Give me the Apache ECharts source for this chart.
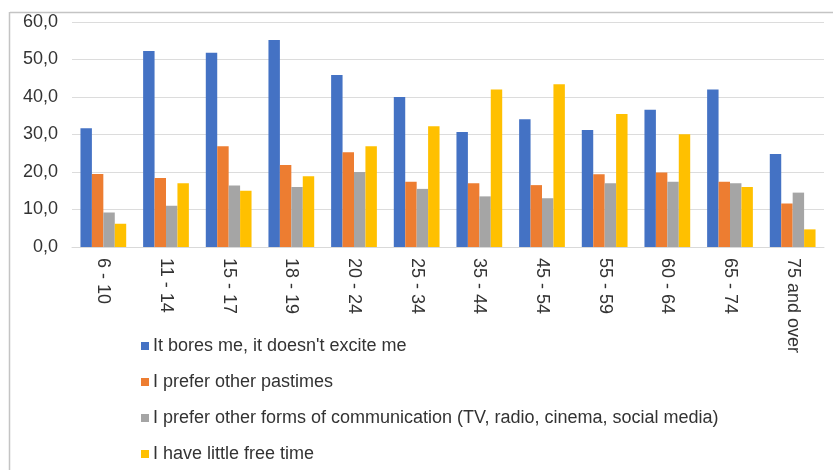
<!DOCTYPE html>
<html>
<head>
<meta charset="utf-8">
<script src="https://cdn.jsdelivr.net/npm/echarts@6/dist/echarts.min.js"></script>
<style>
html,body{margin:0;padding:0;background:#fff;}
#chart{width:833px;height:470px;}
</style>
</head>
<body>
<div id="chart"></div>
<script>
var categories = ["6 - 10","11 - 14","15 - 17","18 - 19","20 - 24","25 - 34","35 - 44","45 - 54","55 - 59","60 - 64","65 - 74","75 and over"];
var seriesNames = ["It bores me, it doesn't excite me","I prefer other pastimes","I prefer other forms of communication (TV, radio, cinema, social media)","I have little free time"];
var boresMe = [31.7,52.3,51.8,55.2,45.9,40.0,30.7,34.1,31.2,36.6,42.0,24.8];
var otherPastimes = [19.5,18.4,26.9,21.9,25.3,17.4,17.0,16.5,19.4,19.9,17.4,11.6];
var otherComm = [9.2,11.0,16.4,16.0,20.0,15.5,13.5,13.0,17.0,17.4,17.0,14.5];
var littleTime = [6.2,17.0,15.0,18.9,26.9,32.2,42.0,43.4,35.5,30.1,16.0,4.7];
var yTicks = {min:0, max:60, interval:10};
var colors = ["#4472C4","#ED7D31","#A5A5A5","#FFC000"];

var chart = echarts.init(document.getElementById('chart'));
var dataSets = [boresMe, otherPastimes, otherComm, littleTime];
var txt = '#333333';
var ff = 'Liberation Sans, Arial, sans-serif';
chart.setOption({
  animation:false,
  color: colors,
  graphic:[
    {type:'line', shape:{x1:10,y1:12.5,x2:833,y2:12.5}, style:{stroke:'#c4c4c4',lineWidth:1.5}},
    {type:'line', shape:{x1:9.5,y1:12,x2:9.5,y2:470}, style:{stroke:'#c4c4c4',lineWidth:1.5}}
  ],
  grid:{left:72, right:9, top:22, bottom:223, containLabel:false},
  legend:{
    orient:'vertical', left:141, top:337, height:133, padding:0,
    itemWidth:8, itemHeight:8, itemGap:18,
    icon:'rect',
    textStyle:{fontFamily:ff, fontSize:18, color:txt, padding:[0,0,0,-1]},
    data: seriesNames
  },
  xAxis:{
    type:'category', data:categories,
    axisLine:{lineStyle:{color:'#d9d9d9', width:1}},
    axisTick:{show:false},
    axisLabel:{rotate:-90, margin:11, interval:0, fontFamily:ff, fontSize:18, color:txt, overflow:'none', width:200}
  },
  yAxis:{
    type:'value', min:yTicks.min, max:yTicks.max, interval:yTicks.interval,
    axisLine:{show:false}, axisTick:{show:false},
    splitLine:{lineStyle:{color:'#dcdcdc', width:1}},
    axisLabel:{margin:14, fontFamily:ff, fontSize:18, color:txt,
      formatter:function(v){return v.toFixed(1).replace('.', ',');}}
  },
  series: seriesNames.map(function(n,i){
    return {name:n, type:'bar', data:dataSets[i], barGap:'0%', barCategoryGap:'27%'};
  })
});
</script>
</body>
</html>
